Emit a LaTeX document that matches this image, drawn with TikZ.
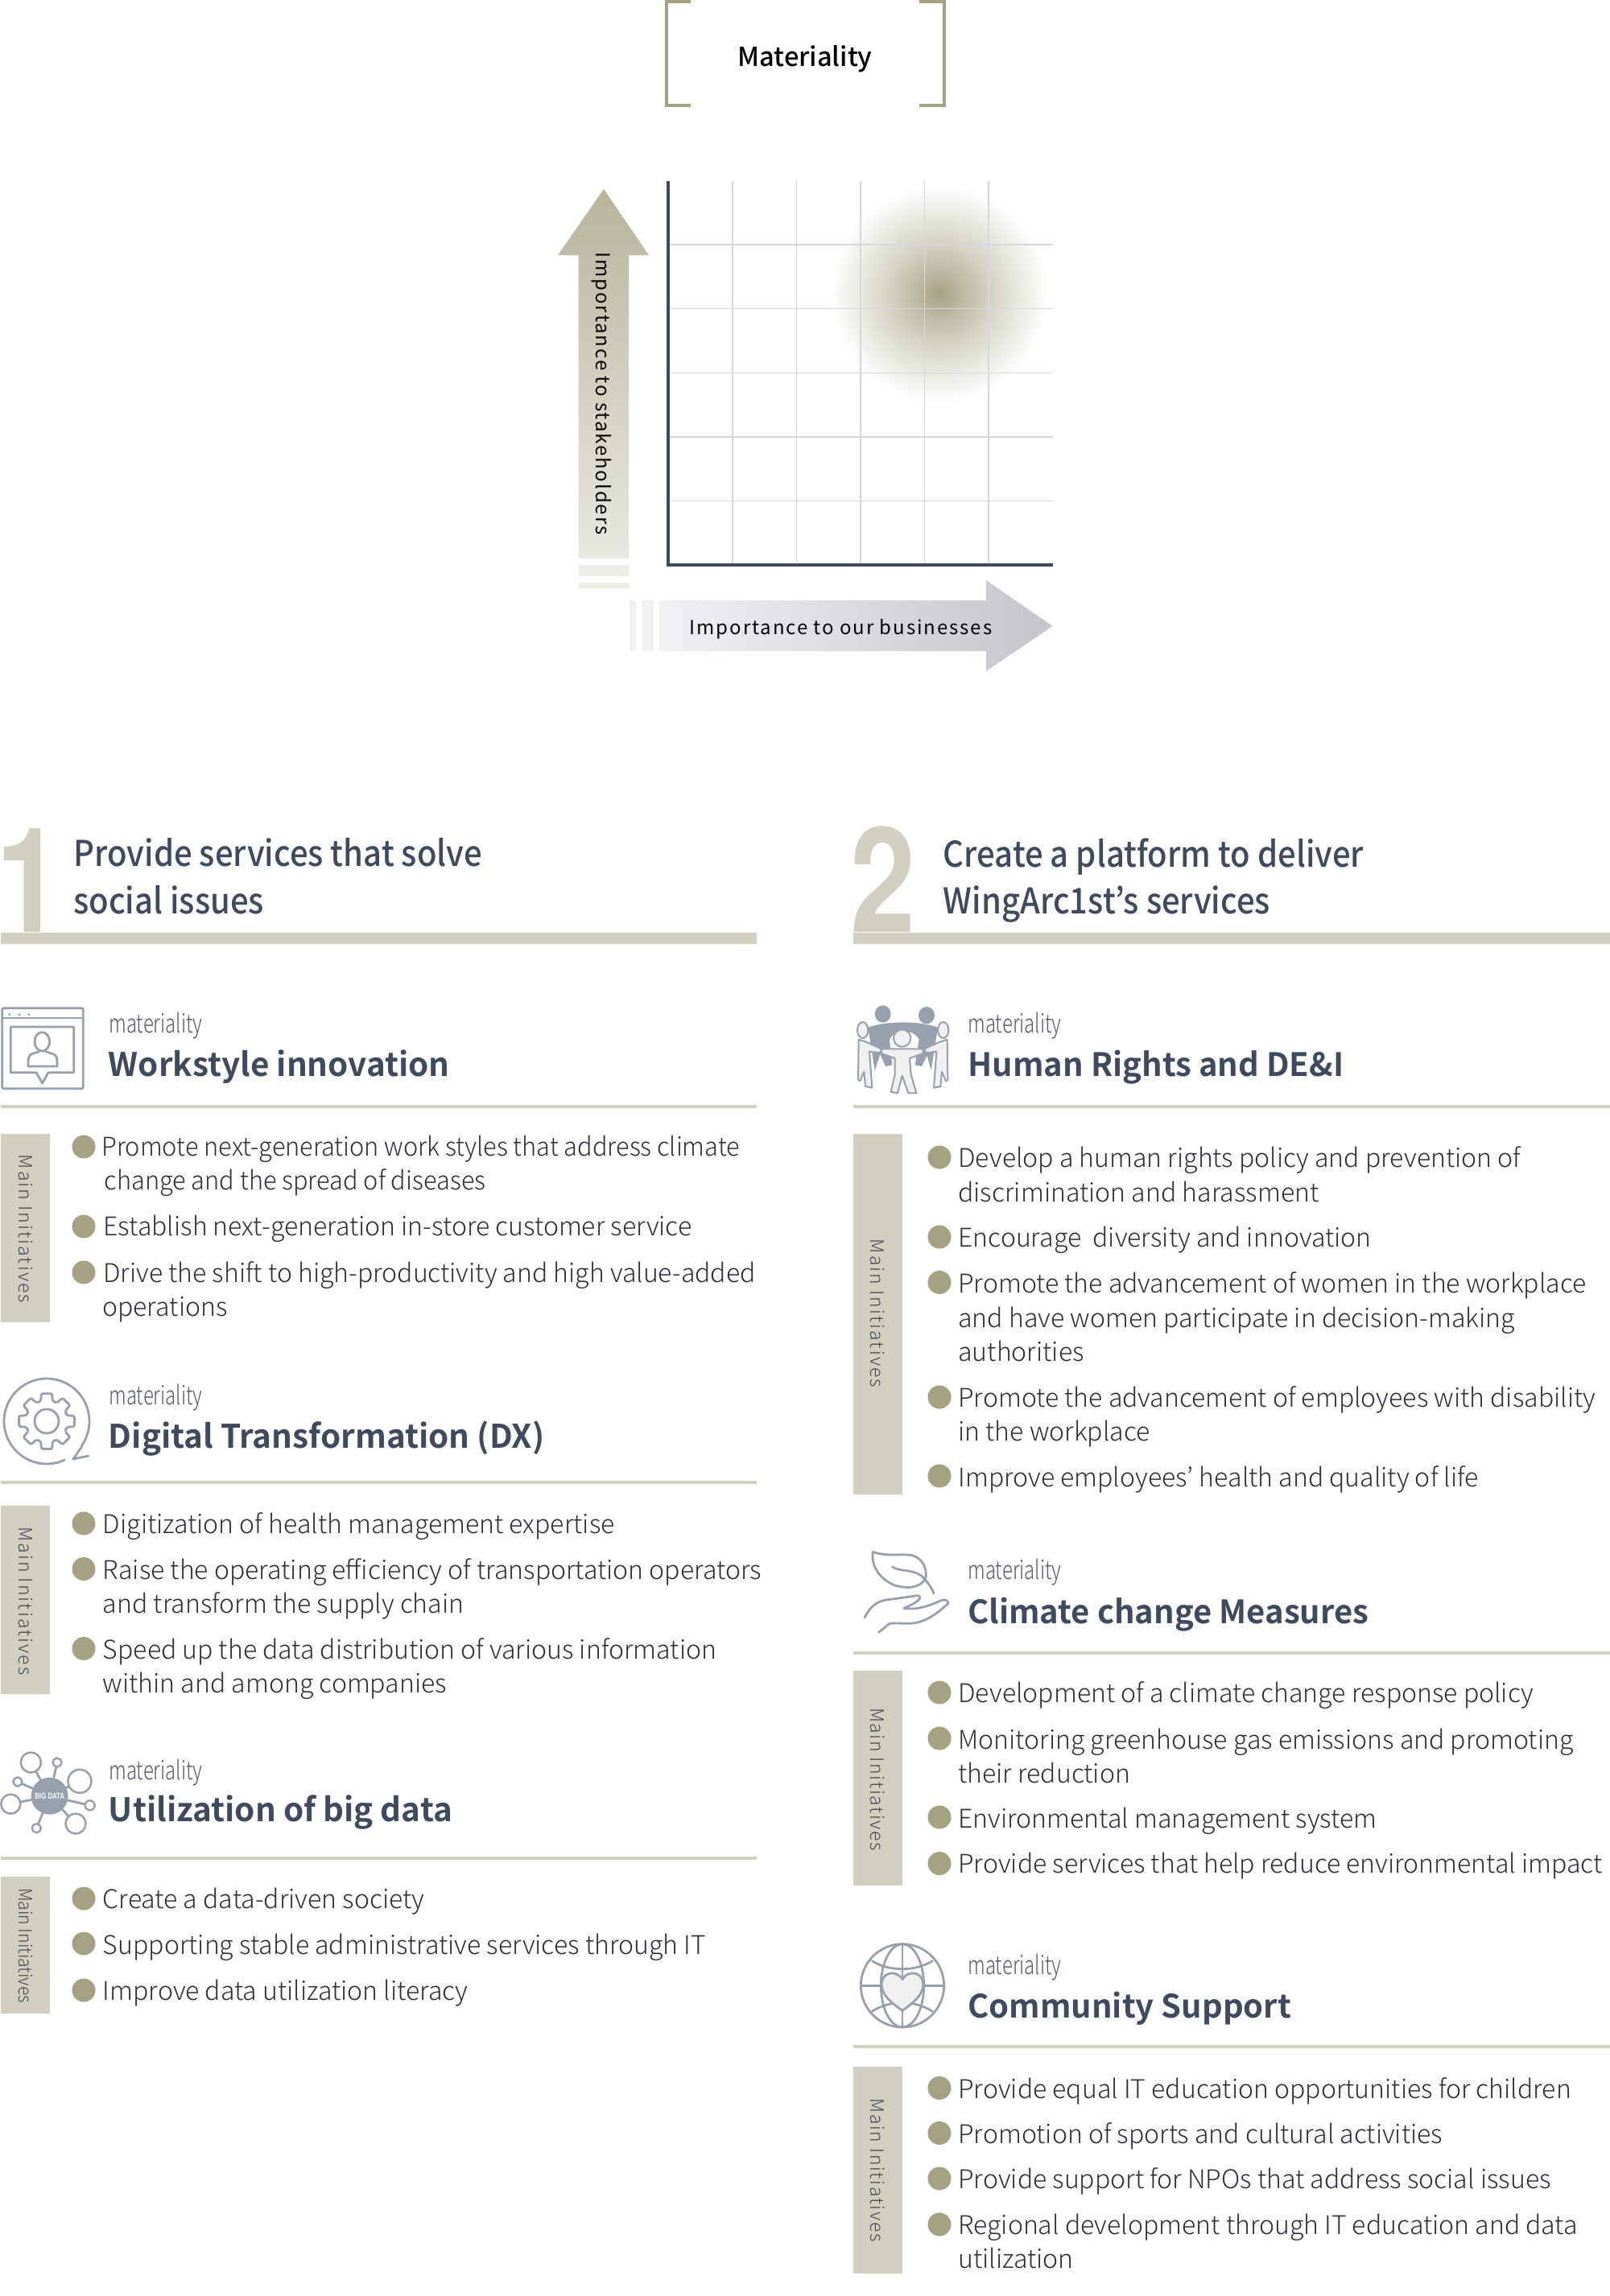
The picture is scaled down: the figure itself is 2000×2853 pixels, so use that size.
\documentclass[tikz,border=0pt]{standalone}
\usepackage{fontspec}
\setmainfont{Noto Sans CJK JP Light}
\newfontfamily\plainfont{Noto Sans CJK JP Medium}
\newfontfamily\boldfont{Noto Sans CJK JP Bold}
\newfontfamily\bodyfont{Noto Sans CJK JP Light}
\newfontfamily\bodynarrow[FakeStretch=0.96]{Noto Sans CJK JP Light}
\newfontfamily\headnarrow[FakeStretch=0.91]{Noto Sans CJK JP Medium}
\newfontfamily\smallnarrow[FakeStretch=0.75]{Noto Sans CJK JP Light}
\newfontfamily\spacedfont[LetterSpace=8]{Noto Sans CJK JP}
\newfontfamily\tagfont[LetterSpace=7]{Noto Sans CJK JP Light}
\newfontfamily\tagwide[LetterSpace=9]{Noto Sans CJK JP Light}
\newfontfamily\tagtight[FakeStretch=0.92]{Noto Sans CJK JP Light}
\newfontfamily\numfont[FakeStretch=0.8]{TeX Gyre Heros}
\usepackage{tikz}
\definecolor{olivedark}{HTML}{A5A283}
\definecolor{olivelight}{HTML}{D1D0C0}
\definecolor{slate}{HTML}{3F4A5E}
\definecolor{gridgray}{HTML}{D5D7DE}
\definecolor{iconblue}{HTML}{98A0AD}
\definecolor{bodyink}{HTML}{2C2F36}
\definecolor{softink}{HTML}{555B68}
\definecolor{tagink}{HTML}{444952}
\definecolor{arrowpale}{HTML}{F0F1F3}
\definecolor{arrowgray}{HTML}{C3C5CB}
\pgfdeclareradialshading{glow}{\pgfpoint{0bp}{0bp}}{color(0bp)=(olivedark); color(6bp)=(olivedark!72!white); color(12.5bp)=(olivedark!45!white); color(20bp)=(olivedark!18!white); color(24.5bp)=(olivedark!3!white); color(25bp)=(white); color(50bp)=(white)}
\tikzset{
    iconline/.style={draw=iconblue, line width=1.4pt, line cap=round, line join=round},
    zoomed/.style={x=0.16667pt, y=-0.16667pt},
    bulletdot/.style={circle, fill=olivedark, inner sep=0pt, minimum size=14.5pt},
    linetext/.style={anchor=base west, inner sep=0pt, text=bodyink, font=\bodyfont\fontsize{16}{18}\selectfont},
    linenarrow/.style={linetext, font=\bodynarrow\fontsize{16}{18}\selectfont},
    tagtext/.style={rotate=-90, inner sep=0pt, text=tagink, font=\tagfont\fontsize{11.5}{13}\selectfont},
    tagspread/.style={tagtext, font=\tagwide\fontsize{11.5}{13}\selectfont},
    headtext/.style={anchor=base west, inner sep=0pt, text=slate, font=\headnarrow\fontsize{22}{24}\selectfont},
    smalltext/.style={anchor=base west, inner sep=0pt, text=softink, font=\smallnarrow\fontsize{16}{18}\selectfont},
    titletext/.style={anchor=base west, inner sep=0pt, text=slate, font=\boldfont\fontsize{20.2}{22}\selectfont},
    titleright/.style={titletext, font=\boldfont\fontsize{20}{22}\selectfont},
    bignum/.style={anchor=base west, inner sep=0pt, text=olivelight, font=\numfont\bfseries\fontsize{91}{91}\selectfont},
    axistext/.style={inner sep=0pt, text=black, font=\spacedfont\fontsize{12}{14}\selectfont},
    thinrule/.style={draw=olivelight, line width=2pt},
    satdot/.style={circle, draw=iconblue, line width=1.25pt, inner sep=0pt},
}

\begin{document}
\begin{tikzpicture}[x=0.5pt, y=-0.5pt]
    \useasboundingbox (0,0) rectangle (2000,2853);

    % Materiality heading
    \draw[olivedark, line width=1.8pt] (858,2) -- (828,2) -- (828,131) -- (858,131);
    \draw[olivedark, line width=1.8pt] (1142,2) -- (1173,2) -- (1173,131) -- (1142,131);
    \node[inner sep=0pt, text=black, font=\plainfont\fontsize{16.3}{19}\selectfont] (heading) at (1000,73.5) {Materiality};

    % Matrix
    \shade[shading=glow] (1167,365) circle (135);
    \foreach \gx in {910,989.5,1069,1148.5,1228}
        \draw[gridgray, line width=0.75pt] (\gx,225) -- (\gx,702);
    \foreach \gy in {304,383.5,463.5,543,622.5}
        \draw[gridgray, line width=0.75pt] (830,\gy) -- (1307.5,\gy);
    \draw[slate, line width=2pt] (830,225) -- (830,702) -- (1307.5,702);

    % Axis arrows
    \shade[top color=olivedark!80, bottom color=olivedark!25] (750,235) -- (806,317) -- (781,317) -- (781,694) -- (718.5,694) -- (718.5,317) -- (693,317) -- cycle;
    \fill[olivedark!20] (718.5,702) rectangle (781,716);
    \fill[olivedark!20] (718.5,724) rectangle (781,731);
    \node[axistext, rotate=-90] (stakeholders) at (747,489) {Importance to stakeholders};
    \shade[left color=arrowpale, right color=arrowgray] (819,746) -- (1225,746) -- (1225,721) -- (1307.5,778) -- (1225,834) -- (1225,809) -- (819,809) -- cycle;
    \fill[arrowpale] (782,746) rectangle (790,809);
    \fill[arrowpale] (797.5,746) rectangle (812,809);
    \node[axistext] (businesses) at (1044.5,781.5) {Importance to our businesses};

    % Column 1: Provide services
    \node[bignum] (one) at (0,1158) {\kern-2.5pt 1};
    \fill[olivelight] (1,1158.5) rectangle (940,1173);
    \node[headtext] (head1a) at (91,1076) {Provide services that solve};
    \node[headtext] (head1b) at (91,1135) {social issues};

    % Workstyle innovation
    \begin{scope}[shift={(0,1240)}, zoomed]
        \draw[iconline, rounded corners=1pt] (8,38) rectangle (310,338);
        \draw[iconline] (8,75) -- (310,75);
        \foreach \dx in {35,72,108}
            \fill[iconblue] (\dx,62) circle (5);
        \draw[iconline] (40,108) -- (275,108) -- (275,278) -- (180,278) -- (158,318) -- (135,278) -- (40,278) -- cycle;
        \draw[iconline] (157,163) ellipse (28 and 35);
        \draw[iconline] (145,200) -- (122,208) .. controls (105,212) and (105,225) .. (105,255) -- (213,255) .. controls (213,225) and (213,212) .. (195,208) -- (170,200);
    \end{scope}
    \node[smalltext] (mat1) at (135,1283) {materiality};
    \node[titletext] (title1) at (134.5,1337) {Workstyle innovation};
    \draw[thinrule] (1,1375) -- (940,1375);
    \fill[olivelight] (1,1408.5) rectangle (62,1643);
    \node[tagspread] (tag1) at (32,1527) {Main Initiatives};
    \foreach \by [count=\i] in {1425,1524,1581}
        \node[bulletdot] (dotw\i) at (104,\by) {};
    \node[linenarrow] (linew1) at (126,1436.5) {Promote next-generation work styles that address climate};
    \node[linenarrow] (linew2) at (129.5,1478.5) {change and the spread of diseases};
    \foreach \lx/\ly/\lab [count=\i from 3] in {128/1535.5/Establish next-generation in-store customer service,
        128/1593/Drive the shift to high-productivity and high value-added,
        127/1635/operations}
        \node[linetext] (linew\i) at (\lx,\ly) {\lab};

    % Digital Transformation
    \begin{scope}[shift={(58,1766)}]
        \draw[iconline] (65:53) arc[start angle=65, end angle=395, radius=53];
        \draw[iconline] (33,47) -- (52,43) (44,31) -- (33,47);
        \draw[iconline, rounded corners=1pt] (-16:26) \foreach \ga in {0,45,...,315} { -- ({\ga-16}:26) -- ({\ga-11}:35) -- ({\ga+11}:35) -- ({\ga+16}:26) } -- cycle;
        \draw[iconline] (0,0) circle (15);
    \end{scope}
    \node[smalltext] (mat2) at (135,1745) {materiality};
    \node[titletext] (title2) at (134.5,1799) {Digital Transformation (DX)};
    \draw[thinrule] (1,1842) -- (940,1842);
    \fill[olivelight] (1,1871) rectangle (62,2105);
    \node[tagspread] (tag2) at (32,1989.5) {Main Initiatives};
    \foreach \by [count=\i] in {1893,1949.5,2048.5}
        \node[bulletdot] (dotd\i) at (104,\by) {};
    \foreach \lx/\ly/\lab [count=\i] in {127.5/1905/Digitization of health management expertise,
        127.5/1962/Raise the operating efficiency of transportation operators,
        127.5/2004/and transform the supply chain,
        127.5/2061/Speed up the data distribution of various information,
        127.5/2103/within and among companies}
        \node[linetext] (lined\i) at (\lx,\ly) {\lab};

    % Utilization of big data
    \begin{scope}[shift={(0,2160)}, zoomed]
        \node[circle, fill=iconblue, inner sep=0pt, minimum size=23pt, text=white!90!iconblue, font=\numfont\bfseries\fontsize{5}{6}\selectfont] (hub) at (185,215) {BIG DATA};
        \foreach \sn/\sx/\sy/\sd in {a/115/90/12.5, b/213/90/5.5, c/297/160/14.5, d/66/162/5.5, e/40/245/12, f/335/250/6, g/282/318/12.5, h/136/335/5.5} {
            \node[satdot, minimum size=\sd pt] (sat\sn) at (\sx,\sy) {};
            \draw[iconline] (hub) -- (sat\sn);
        }
    \end{scope}
    \node[smalltext] (mat3) at (135,2211) {materiality};
    \node[titletext] (title3) at (134.5,2263) {Utilization of big data};
    \draw[thinrule] (1,2309) -- (940,2309);
    \fill[olivelight] (1,2332) rectangle (62,2502);
    \node[tagtext, font=\tagtight\fontsize{11.5}{13}\selectfont] (tag3) at (32,2417.5) {Main Initiatives};
    \foreach \by [count=\i] in {2359,2415,2473}
        \node[bulletdot] (dotb\i) at (104,\by) {};
    \foreach \lx/\ly/\lab [count=\i] in {127.5/2371/Create a data-driven society,
        127.5/2428/Supporting stable administrative services through IT,
        127.5/2485/Improve data utilization literacy}
        \node[linetext] (lineb\i) at (\lx,\ly) {\lab};

    % Column 2: Create a platform
    \node[bignum] (two) at (1056.5,1158) {2};
    \fill[olivelight] (1060,1158.5) rectangle (2000,1173);
    \node[headtext] (head2a) at (1171.5,1077) {Create a platform to deliver};
    \node[headtext] (head2b) at (1171.5,1135) {WingArc1st’s services};

    % Human Rights and DE&I
    \begin{scope}[shift={(1050,1235)}, zoomed]
        \fill[iconblue] (140,75) ellipse (30 and 32);
        \fill[iconblue] (303,80) ellipse (30 and 32);
        \fill[iconblue] (85,125) .. controls (150,100) and (280,100) .. (345,125) -- (320,285) -- (305,230) -- (285,270) -- (260,265) -- (275,170) .. controls (260,130) and (180,130) .. (165,170) -- (175,265) -- (150,270) -- (130,225) -- (110,285) -- cycle;
        \foreach \flip/\mid in {1/0, -1/430} {
            \begin{scope}[shift={(\mid,0)}, xscale=\flip]
                \draw[iconline, fill=white!94!black, line width=1pt] (65,135) ellipse (20 and 30);
                \draw[iconline, fill=white!94!black, line width=1pt] (50,170) -- (80,180) -- (135,205) -- (130,220) -- (90,215) -- (100,350) -- (75,345) -- (70,290) -- (55,325) -- (48,320) -- cycle;
            \end{scope}
        }
        \draw[iconline, fill=white!94!black, line width=1pt] (135,205) -- (190,205) -- (235,205) -- (290,205) -- (290,222) -- (240,240) -- (245,300) -- (265,370) -- (235,370) -- (212,305) -- (195,370) -- (170,365) -- (185,300) -- (185,240) -- (135,222) -- cycle;
        \draw[iconline, fill=white!94!black, line width=1pt] (212,165) circle (32);
    \end{scope}
    \node[smalltext] (mat4) at (1202,1283) {materiality};
    \node[titleright] (title4) at (1202,1337) {Human Rights and DE\&I};
    \draw[thinrule] (1060,1374.5) -- (2000,1374.5);
    \fill[olivelight] (1060,1409) rectangle (1121,1856.5);
    \node[tagspread] (tag4) at (1090,1632) {Main Initiatives};
    \foreach \by [count=\i] in {1438,1537,1593.5,1736,1834}
        \node[bulletdot] (doth\i) at (1167,\by) {};
    \foreach \ly/\lab [count=\i] in {1450/Develop a human rights policy and prevention of,
        1493/discrimination and harassment,
        1549.5/Encourage\ \ diversity and innovation,
        1606.5/Promote the advancement of women in the workplace,
        1649.5/and have women participate in decision-making,
        1691.5/authorities,
        1748/Promote the advancement of employees with disability,
        1790.5/in the workplace,
        1847/Improve employees’ health and quality of life}
        \node[linetext] (lineh\i) at (1190,\ly) {\lab};

    % Climate change Measures
    \begin{scope}[shift={(1050,1910)}, zoomed]
        \draw[iconline] (103,55) .. controls (160,75) and (210,60) .. (250,68) .. controls (290,80) and (305,120) .. (300,150) .. controls (285,190) and (230,195) .. (180,178) .. controls (130,155) and (95,110) .. (103,55) -- cycle;
        \draw[iconline] (175,110) .. controls (200,130) and (250,118) .. (285,145) .. controls (305,165) and (320,185) .. (330,210);
        \draw[iconline] (72,300) .. controls (95,255) and (120,238) .. (160,233) .. controls (200,228) and (240,222) .. (268,218) .. controls (290,220) and (280,240) .. (218,265) .. controls (260,272) and (300,262) .. (360,235) .. controls (385,230) and (390,248) .. (375,255) .. controls (340,285) and (310,310) .. (260,320) .. controls (220,325) and (190,318) .. (165,322) -- (125,355);
    \end{scope}
    \node[smalltext] (mat5) at (1202,1962) {materiality};
    \node[titleright] (title5) at (1202,2017) {Climate change Measures};
    \draw[thinrule] (1060,2053.5) -- (2000,2053.5);
    \fill[olivelight] (1060,2076) rectangle (1121,2343);
    \node[tagtext] (tag5) at (1090,2211) {Main Initiatives};
    \foreach \by [count=\i] in {2103,2160,2258,2315.5}
        \node[bulletdot] (dotc\i) at (1167,\by) {};
    \foreach \ly/\lab [count=\i] in {2115.5/Development of a climate change response policy,
        2173/Monitoring greenhouse gas emissions and promoting,
        2215/their reduction,
        2271/Environmental management system,
        2327.5/Provide services that help reduce environmental impact}
        \node[linetext] (linec\i) at (1190,\ly) {\lab};

    % Community Support
    \begin{scope}[shift={(1050,2400)}, zoomed]
        \draw[iconline] (213,202) circle (155);
        \draw[iconline] (213,47) -- (213,357);
        \draw[iconline] (58,202) -- (368,202);
        \draw[iconline] (213,202) ellipse (80 and 155);
        \draw[iconline] (100,110) .. controls (165,150) and (260,150) .. (325,110);
        \draw[iconline] (100,298) .. controls (165,255) and (260,255) .. (325,298);
        \draw[iconline, fill=white!94!black] (213,178) .. controls (235,140) and (295,150) .. (290,205) .. controls (285,245) and (240,275) .. (213,295) .. controls (185,275) and (140,245) .. (136,205) .. controls (130,150) and (190,140) .. (213,178) -- cycle;
    \end{scope}
    \node[smalltext] (mat6) at (1202,2453) {materiality};
    \node[titleright] (title6) at (1202,2507.5) {Community Support};
    \draw[thinrule] (1060,2543) -- (2000,2543);
    \fill[olivelight] (1060,2568) rectangle (1121,2825);
    \node[tagtext] (tag6) at (1090,2696.5) {Main Initiatives};
    \foreach \by [count=\i] in {2594.5,2650.5,2707,2764}
        \node[bulletdot] (dots\i) at (1167,\by) {};
    \foreach \ly/\lab [count=\i] in {2607/Provide equal IT education opportunities for children,
        2663.5/Promotion of sports and cultural activities,
        2719.5/Provide support for NPOs that address social issues,
        2776.5/Regional development through IT education and data,
        2818.5/utilization}
        \node[linetext] (lines\i) at (1190,\ly) {\lab};
\end{tikzpicture}
\end{document}
